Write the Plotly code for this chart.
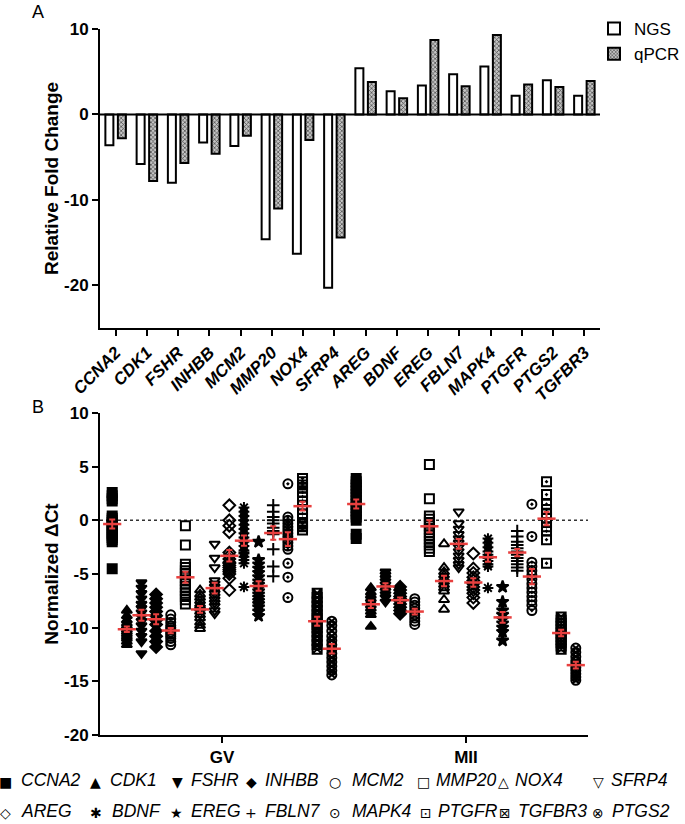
import numpy as np
import plotly.graph_objects as go

W, H = 685, 824
FONT = "Liberation Sans, Arial, sans-serif"
RED = "#E8403F"

# ---------------- Panel A data ----------------
genes_A = ["CCNA2", "CDK1", "FSHR", "INHBB", "MCM2", "MMP20", "NOX4", "SFRP4",
           "AREG", "BDNF", "EREG", "FBLN7", "MAPK4", "PTGFR", "PTGS2", "TGFBR3"]
ngs_fold = [-3.6, -5.8, -8.0, -3.3, -3.7, -14.6, -16.3, -20.3,
            5.4, 2.7, 3.4, 4.7, 5.6, 2.2, 4.0, 2.2]
qpcr_fold = [-2.8, -7.8, -5.7, -4.6, -2.5, -11.0, -3.0, -14.4,
             3.8, 1.9, 8.7, 3.3, 9.3, 3.5, 3.2, 3.9]
ticks_A = [-20, -10, 0, 10]
ticklabels_A = ["-20", "-10", "0", "10"]

# ---------------- Panel B data ----------------
stages = ["GV", "MII"]
genes_B = ["CCNA2", "CDK1", "FSHR", "INHBB", "MCM2", "MMP20", "NOX4", "SFRP4",
           "AREG", "BDNF", "EREG", "FBLN7", "MAPK4", "PTGFR", "TGFBR3", "PTGS2"]
ticks_B = [-20, -15, -10, -5, 0, 5, 10]
ticklabels_B = ["-20", "-15", "-10", "-5", "0", "5", "10"]

CCNA2_GV = [2.6, 2.3, 2.0, 1.8, 0.4, 0.2, 0.0, -0.2, -0.4, -0.6, -0.8, -1.0, -1.2, -1.4, -1.6, -1.8, -2.0, -4.5]
CCNA2_MII = [3.9, 3.6, 3.3, 3.0, 2.7, 2.4, 2.1, 1.8, 1.5, 1.2, 0.9, 0.6, 0.3, 0.0, -1.3, -1.7]
CDK1_GV = [-8.4, -8.9, -9.3, -9.6, -9.8, -10.0, -10.2, -10.4, -10.6, -10.8, -11.0, -11.3, -11.6]
CDK1_MII = [-6.3, -6.7, -7.0, -7.3, -7.6, -7.9, -8.2, -8.5, -8.8, -9.9]
FSHR_GV = [-5.8, -6.3, -6.8, -7.3, -7.8, -8.2, -8.6, -9.0, -9.4, -9.8, -10.3, -10.8, -11.3, -12.4]
FSHR_MII = [-4.8, -5.1, -5.4, -5.7, -6.0, -6.3, -6.6, -6.9, -7.2, -7.6]
INHBB_GV = [-6.9, -7.3, -7.7, -8.1, -8.5, -8.9, -9.3, -9.7, -10.3, -10.8, -11.3, -11.8]
INHBB_MII = [-6.2, -6.5, -6.8, -7.1, -7.3, -7.5, -7.8, -8.1, -8.4, -8.7]
MCM2_GV = [-8.8, -9.2, -9.5, -9.8, -10.0, -10.2, -10.4, -10.6, -10.8, -11.0, -11.3, -11.6]
MCM2_MII = [-7.3, -7.6, -7.9, -8.2, -8.5, -8.8, -9.1, -9.4, -9.7]
MMP20_GV = [-0.5, -2.3, -4.1, -4.4, -4.7, -5.0, -5.3, -5.6, -5.9, -6.2, -6.5, -6.8, -7.1, -7.4, -7.8]
MMP20_MII = [5.2, 2.0, 0.4, 0.1, -0.2, -0.5, -0.8, -1.1, -1.4, -1.7, -2.0, -2.3, -2.6, -2.9]
NOX4_GV = [-6.5, -6.9, -7.2, -7.5, -7.8, -8.0, -8.2, -8.5, -8.8, -9.1, -9.5, -9.8, -10.1]
NOX4_MII = [-2.2, -4.4, -4.8, -5.1, -5.4, -5.7, -6.0, -6.3, -6.6, -7.4, -8.3]
SFRP4_GV = [-2.2, -3.5, -4.4, -5.6, -5.9, -6.2, -6.5, -6.8, -7.1, -7.4, -7.7, -8.0, -8.4, -8.7]
SFRP4_MII = [0.8, -0.3, -0.8, -1.3, -1.7, -2.1, -2.5, -2.9, -3.3, -3.7, -4.1, -4.4]
AREG_GV = [1.4, 0.0, -0.5, -1.1, -3.0, -3.3, -3.6, -3.9, -4.0, -4.2, -4.4, -4.6, -4.8, -5.0, -5.4, -6.5]
AREG_MII = [-3.1, -4.5, -4.9, -5.3, -5.6, -5.9, -6.2, -6.5, -6.8, -7.2, -7.7]
BDNF_GV = [1.2, 0.8, 0.4, 0.0, -0.4, -0.8, -1.2, -1.6, -2.0, -2.4, -2.8, -3.0, -3.1, -3.4, -3.7, -4.0, -6.2]
BDNF_MII = [-1.7, -2.1, -2.5, -2.9, -3.2, -3.5, -3.8, -4.1, -4.3, -6.3]
EREG_GV = [-2.0, -3.7, -4.1, -4.5, -4.9, -5.3, -5.7, -6.0, -6.3, -6.6, -6.9, -7.2, -7.5, -7.8, -8.1, -8.5, -8.9]
EREG_MII = [-6.2, -7.6, -8.4, -8.8, -9.2, -9.6, -10.0, -10.4, -11.2]
FBLN7_GV = [1.4, 0.8, 0.3, 0.0, -0.3, -0.7, -1.0, -1.3, -2.7, -4.3, -5.2]
FBLN7_MII = [-1.0, -1.5, -2.0, -2.3, -2.6, -2.9, -3.2, -3.5, -3.8, -4.1, -4.4, -4.7]
MAPK4_GV = [3.4, 0.3, 0.0, -0.3, -0.6, -0.9, -1.2, -1.5, -1.8, -2.1, -2.4, -2.7, -4.0, -5.3, -7.2]
MAPK4_MII = [1.5, -1.5, -3.9, -4.3, -4.7, -5.1, -5.5, -5.9, -6.3, -6.7, -7.1, -7.5, -7.9, -8.4]
PTGFR_GV = [3.9, 3.6, 3.3, 3.0, 2.6, 2.2, 1.8, 1.4, 1.0, 0.6, 0.2, -0.2, -0.3, -0.5, -0.6, -0.9]
PTGFR_MII = [3.6, 2.4, 1.5, 1.0, 0.6, 0.2, -0.2, -0.6, -1.0, -1.8, -4.0]
TGFBR3_GV = [-6.8, -7.2, -7.6, -8.0, -8.4, -8.8, -9.1, -9.4, -9.7, -10.0, -10.4, -10.8, -11.2, -11.6, -12.0]
TGFBR3_MII = [-9.0, -9.3, -9.6, -9.9, -10.2, -10.5, -10.8, -11.1, -11.4, -11.7, -12.0]
PTGS2_GV = [-9.4, -9.8, -10.3, -10.8, -11.2, -11.6, -12.0, -12.4, -12.8, -13.2, -13.6, -14.0, -14.4]
PTGS2_MII = [-11.9, -12.3, -12.7, -13.1, -13.4, -13.7, -14.0, -14.3, -14.6, -14.9]

values_B = {
    "CCNA2": (CCNA2_GV, CCNA2_MII), "CDK1": (CDK1_GV, CDK1_MII),
    "FSHR": (FSHR_GV, FSHR_MII), "INHBB": (INHBB_GV, INHBB_MII),
    "MCM2": (MCM2_GV, MCM2_MII), "MMP20": (MMP20_GV, MMP20_MII),
    "NOX4": (NOX4_GV, NOX4_MII), "SFRP4": (SFRP4_GV, SFRP4_MII),
    "AREG": (AREG_GV, AREG_MII), "BDNF": (BDNF_GV, BDNF_MII),
    "EREG": (EREG_GV, EREG_MII), "FBLN7": (FBLN7_GV, FBLN7_MII),
    "MAPK4": (MAPK4_GV, MAPK4_MII), "PTGFR": (PTGFR_GV, PTGFR_MII),
    "TGFBR3": (TGFBR3_GV, TGFBR3_MII), "PTGS2": (PTGS2_GV, PTGS2_MII),
}

# ---------------- styles ----------------
symbols_B = ["square", "triangle-up", "triangle-down", "diamond", "circle-open",
             "square-open", "triangle-up-open", "triangle-down-open", "diamond-open",
             "asterisk-open", "star", "cross-thin-open", "circle-open-dot",
             "square-open-dot", "square-x-open", "circle-x-open"]
glyphs_B = ["■", "▲", "▼", "◆", "○", "□", "△", "▽", "◇", "✱", "★", "+", "⊙", "⊡", "⊠", "⊗"]
# legend layout (pixels): symbol centre x, text left x, row y
leg_sym_x = [5, 95, 177, 251, 335, 423, 503, 598, 5, 96, 176, 251, 335, 426, 505, 598]
leg_txt_x = [19, 108, 189, 263, 350, 434, 513, 609, 19, 110, 189, 263, 350, 436, 516, 610]
leg_row_y = [780, 811]


def px(xp):
    return xp / W


def py(yp):
    return 1 - yp / H


fig = go.Figure()

# Panel A bars
fig.add_trace(go.Bar(
    x=genes_A, y=ngs_fold, name="NGS", xaxis="x", yaxis="y",
    marker=dict(color="white", line=dict(color="black", width=2)),
    legend="legend"))
fig.add_trace(go.Bar(
    x=genes_A, y=qpcr_fold, name="qPCR", xaxis="x", yaxis="y",
    marker=dict(color="#a8a8a8", line=dict(color="black", width=2),
                pattern=dict(shape="x", size=3, fgcolor="#444444",
                             bgcolor="#c4c4c4", solidity=0.4)),
    legend="legend"))

# Panel B points
for g, sym in zip(genes_B, symbols_B):
    gv, mii = values_B[g]
    xs = [stages[0]] * len(gv) + [stages[1]] * len(mii)
    fig.add_trace(go.Scatter(
        x=xs, y=list(gv) + list(mii), mode="markers", name=g,
        xaxis="x2", yaxis="y2", offsetgroup=g, showlegend=False,
        marker=dict(symbol=sym, size=9, color="black",
                    line=dict(color="black", width=2)),
        cliponaxis=False))

# mean +/- SEM in red
for g in genes_B:
    gv, mii = values_B[g]
    means = [float(np.mean(gv)), float(np.mean(mii))]
    sems = [float(np.std(gv, ddof=1) / np.sqrt(len(gv))),
            float(np.std(mii, ddof=1) / np.sqrt(len(mii)))]
    fig.add_trace(go.Scatter(
        x=stages, y=means, mode="markers", xaxis="x2", yaxis="y2",
        offsetgroup=g, showlegend=False, name=g + " mean",
        marker=dict(symbol="line-ew-open", size=13, color=RED,
                    line=dict(color=RED, width=2.5)),
        error_y=dict(type="data", array=sems, color=RED, thickness=2, width=3)))

axis_common = dict(showline=True, linecolor="black", linewidth=2, ticks="outside",
                   ticklen=6, tickwidth=2, tickcolor="black", showgrid=False,
                   zeroline=False, automargin=False)

fig.update_layout(
    template="none",
    width=W, height=H, autosize=False,
    margin=dict(l=0, r=0, t=0, b=0, pad=0),
    paper_bgcolor="white", plot_bgcolor="white",
    font=dict(family=FONT, color="black"),
    barmode="group", bargap=0.2, bargroupgap=0.36,
    scattermode="group", scattergap=0.04,
    xaxis=dict(domain=[px(100), px(600)], anchor="y", type="category",
               categoryorder="array", categoryarray=genes_A,
               tickangle=-45,
               tickfont=dict(size=17, weight="bold", style="italic"),
               **axis_common),
    yaxis=dict(domain=[py(328), py(29)], anchor="x", range=[-25, 10],
               tickvals=ticks_A, ticktext=ticklabels_A,
               tickfont=dict(size=17, weight="bold"),
               title=dict(text="Relative Fold Change", standoff=0,
                          font=dict(size=19, weight="bold")),
               **axis_common),
    xaxis2=dict(domain=[px(100), px(588)], anchor="y2", type="category",
                categoryorder="array", categoryarray=stages,
                tickfont=dict(size=17, weight="bold"), **axis_common),
    yaxis2=dict(domain=[py(735), py(413)], anchor="x2", range=[-20, 10],
                tickvals=ticks_B, ticktext=ticklabels_B,
                tickfont=dict(size=17, weight="bold"),
                title=dict(text="Normalized ΔCt", standoff=0,
                           font=dict(size=19, weight="bold")),
                **axis_common),
    legend=dict(x=px(594), y=py(11), xanchor="left", yanchor="top",
                bgcolor="rgba(0,0,0,0)", font=dict(size=17, family=FONT),
                itemwidth=30, borderwidth=0),
    shapes=[
        dict(type="line", xref="x domain", yref="y", x0=0, x1=1, y0=0, y1=0,
             line=dict(color="black", width=2)),
        dict(type="line", xref="x2 domain", yref="y2", x0=0, x1=1, y0=0, y1=0,
             line=dict(color="#333333", width=1.5, dash="dot"), layer="below"),
    ],
)

ann = [
    dict(text="A", x=px(30), y=py(12), xref="paper", yref="paper",
         xanchor="left", yanchor="middle", showarrow=False,
         font=dict(size=18, family=FONT)),
    dict(text="B", x=px(30), y=py(407), xref="paper", yref="paper",
         xanchor="left", yanchor="middle", showarrow=False,
         font=dict(size=18, family=FONT)),
]
for i, (g, gl) in enumerate(zip(genes_B, glyphs_B)):
    yy = leg_row_y[i // 8]
    ann.append(dict(text=gl, x=px(leg_sym_x[i]), y=py(yy + 2), xref="paper", yref="paper",
                    xanchor="center", yanchor="middle", showarrow=False,
                    font=dict(size=14, family="DejaVu Sans", color="black")))
    ann.append(dict(text=g, x=px(leg_txt_x[i]), y=py(yy), xref="paper", yref="paper",
                    xanchor="left", yanchor="middle", showarrow=False,
                    font=dict(size=17.5, family=FONT, style="italic", color="black")))
fig.update_layout(annotations=ann)

fig.write_html("out.html",
               config={"displayModeBar": False},
               post_script="document.body.style.margin='0px';"
                           "document.body.style.overflow='hidden';")
